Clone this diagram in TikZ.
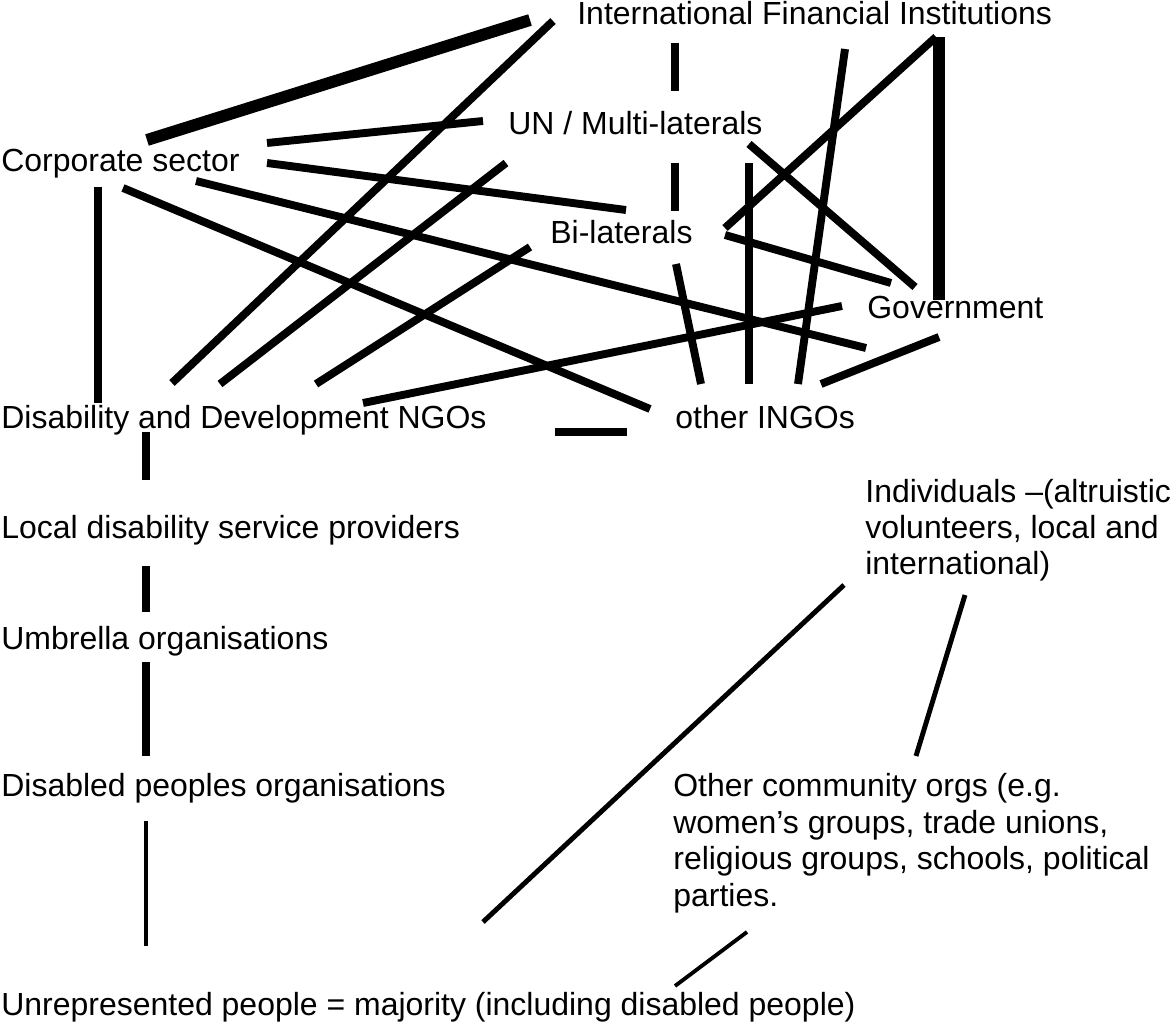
\documentclass[tikz,border=0pt]{standalone}
\usepackage{fontspec}
\setmainfont{Liberation Sans}
\usepackage{tikz}

\begin{document}
\begin{tikzpicture}[x = 0.02cm, y = -0.02cm,
    lbl/.style = {anchor = base west, inner sep = 0pt, align = left, font = \fontsize{18.2pt}{20.7pt}\selectfont},
    link/.style = {line width = 4.5pt},
    heavy/.style = {line width = 6.8pt},
    slim/.style = {line width = 2.8pt},
    hair/.style = {line width = 2.2pt}]

    \useasboundingbox (0, 0) rectangle (1173, 1023);

    \node[lbl] (ifi) at (577, 25) {International Financial Institutions};
    \node[lbl] (un) at (508, 135) {UN / Multi-laterals};
    \node[lbl] (corp) at (1, 172) {Corporate sector};
    \node[lbl] (bil) at (550, 244) {Bi-laterals};
    \node[lbl] (gov) at (867, 319) {Government};
    \node[lbl] (dng) at (1, 429) {Disability and Development NGOs};
    \node[lbl] (ingo) at (675, 429) {other INGOs};
    % multi-line labels sit on their last line
    \node[lbl] (ind) at (865, 575) {Individuals –(altruistic\\volunteers, local and\\international)};
    \node[lbl] (ldsp) at (1, 539) {Local disability service providers};
    \node[lbl] (umb) at (1, 649) {Umbrella organisations};
    \node[lbl] (dpo) at (1, 796) {Disabled peoples organisations};
    \node[lbl] (oco) at (673, 906) {Other community orgs (e.g.\\women’s groups, trade unions,\\religious groups, schools, political\\parties.};
    \node[lbl] (unr) at (1, 1015) {Unrepresented people = majority (including disabled people)};

    % line ends
    \coordinate (corp-ifi) at (147, 140);  \coordinate (ifi-corp) at (530, 20);
    \coordinate (gov-ifi) at (939, 300);   \coordinate (ifi-gov) at (939, 37);
    \coordinate (dng-ifi) at (172, 383);   \coordinate (ifi-dng) at (553, 21);
    \coordinate (corp-un) at (267, 143);   \coordinate (un-corp) at (483, 121);
    \coordinate (corp-bil) at (267, 163);  \coordinate (bil-corp) at (626, 210);
    \coordinate (corp-gov) at (196, 181);  \coordinate (gov-corp) at (866, 348);
    \coordinate (corp-ingo) at (123, 188); \coordinate (ingo-corp) at (650, 409);
    \coordinate (dng-un) at (220, 384);    \coordinate (un-dng) at (506, 163);
    \coordinate (dng-bil) at (316, 384);   \coordinate (bil-dng) at (530, 247);
    \coordinate (dng-gov) at (363, 403);   \coordinate (gov-dng) at (842, 306);
    \coordinate (corp-dng) at (98, 187);   \coordinate (dng-corp) at (98, 403);
    \coordinate (ifi-un) at (675, 43);     \coordinate (un-ifi) at (675, 91);
    \coordinate (un-bil) at (675, 163);    \coordinate (bil-un) at (675, 211);
    \coordinate (bil-ingo) at (676, 264);  \coordinate (ingo-bil) at (701, 384);
    \coordinate (un-ingo) at (749, 163);   \coordinate (ingo-un) at (749, 384);
    \coordinate (ifi-ingo) at (845, 49);   \coordinate (ingo-ifi) at (798, 384);
    \coordinate (bil-ifi) at (725, 228);   \coordinate (ifi-bil) at (936, 37);
    \coordinate (un-gov) at (749, 144);    \coordinate (gov-un) at (915, 287);
    \coordinate (bil-gov) at (725, 235);   \coordinate (gov-bil) at (891, 283);
    \coordinate (ingo-gov) at (821, 384);  \coordinate (gov-ingo) at (939, 337);
    \coordinate (dng-ingo) at (555, 432);  \coordinate (ingo-dng) at (627, 432);
    \coordinate (dng-ldsp) at (146, 432);  \coordinate (ldsp-dng) at (146, 480);
    \coordinate (ldsp-umb) at (146, 566);  \coordinate (umb-ldsp) at (146, 612);
    \coordinate (umb-dpo) at (146, 662);   \coordinate (dpo-umb) at (146, 756);
    \coordinate (dpo-unr) at (146, 821);   \coordinate (unr-dpo) at (146, 946);
    \coordinate (unr-ind) at (483, 922);   \coordinate (ind-unr) at (844, 585);
    \coordinate (ind-oco) at (965, 595);   \coordinate (oco-ind) at (916, 756);
    \coordinate (oco-unr) at (747, 932);   \coordinate (unr-oco) at (675, 986);

    \draw[heavy] (corp-ifi) -- (ifi-corp);
    \draw[heavy] (gov-ifi) -- (ifi-gov);

    \draw[link] (dng-ifi) -- (ifi-dng);
    \draw[link] (corp-un) -- (un-corp);
    \draw[link] (corp-bil) -- (bil-corp);
    \draw[link] (corp-gov) -- (gov-corp);
    \draw[link] (corp-ingo) -- (ingo-corp);
    \draw[link] (dng-un) -- (un-dng);
    \draw[link] (dng-bil) -- (bil-dng);
    \draw[link] (dng-gov) -- (gov-dng);
    \draw[link] (corp-dng) -- (dng-corp);
    \draw[link] (ifi-un) -- (un-ifi);
    \draw[link] (un-bil) -- (bil-un);
    \draw[link] (bil-ingo) -- (ingo-bil);
    \draw[link] (un-ingo) -- (ingo-un);
    \draw[link] (ifi-ingo) -- (ingo-ifi);
    \draw[link] (bil-ifi) -- (ifi-bil);
    \draw[link] (un-gov) -- (gov-un);
    \draw[link] (bil-gov) -- (gov-bil);
    \draw[link] (ingo-gov) -- (gov-ingo);
    \draw[link] (dng-ingo) -- (ingo-dng);
    \draw[link] (dng-ldsp) -- (ldsp-dng);
    \draw[link] (ldsp-umb) -- (umb-ldsp);
    \draw[link] (umb-dpo) -- (dpo-umb);

    \draw[slim] (unr-ind) -- (ind-unr);
    \draw[slim] (ind-oco) -- (oco-ind);
    \draw[hair] (dpo-unr) -- (unr-dpo);
    \draw[hair] (oco-unr) -- (unr-oco);

\end{tikzpicture}
\end{document}
